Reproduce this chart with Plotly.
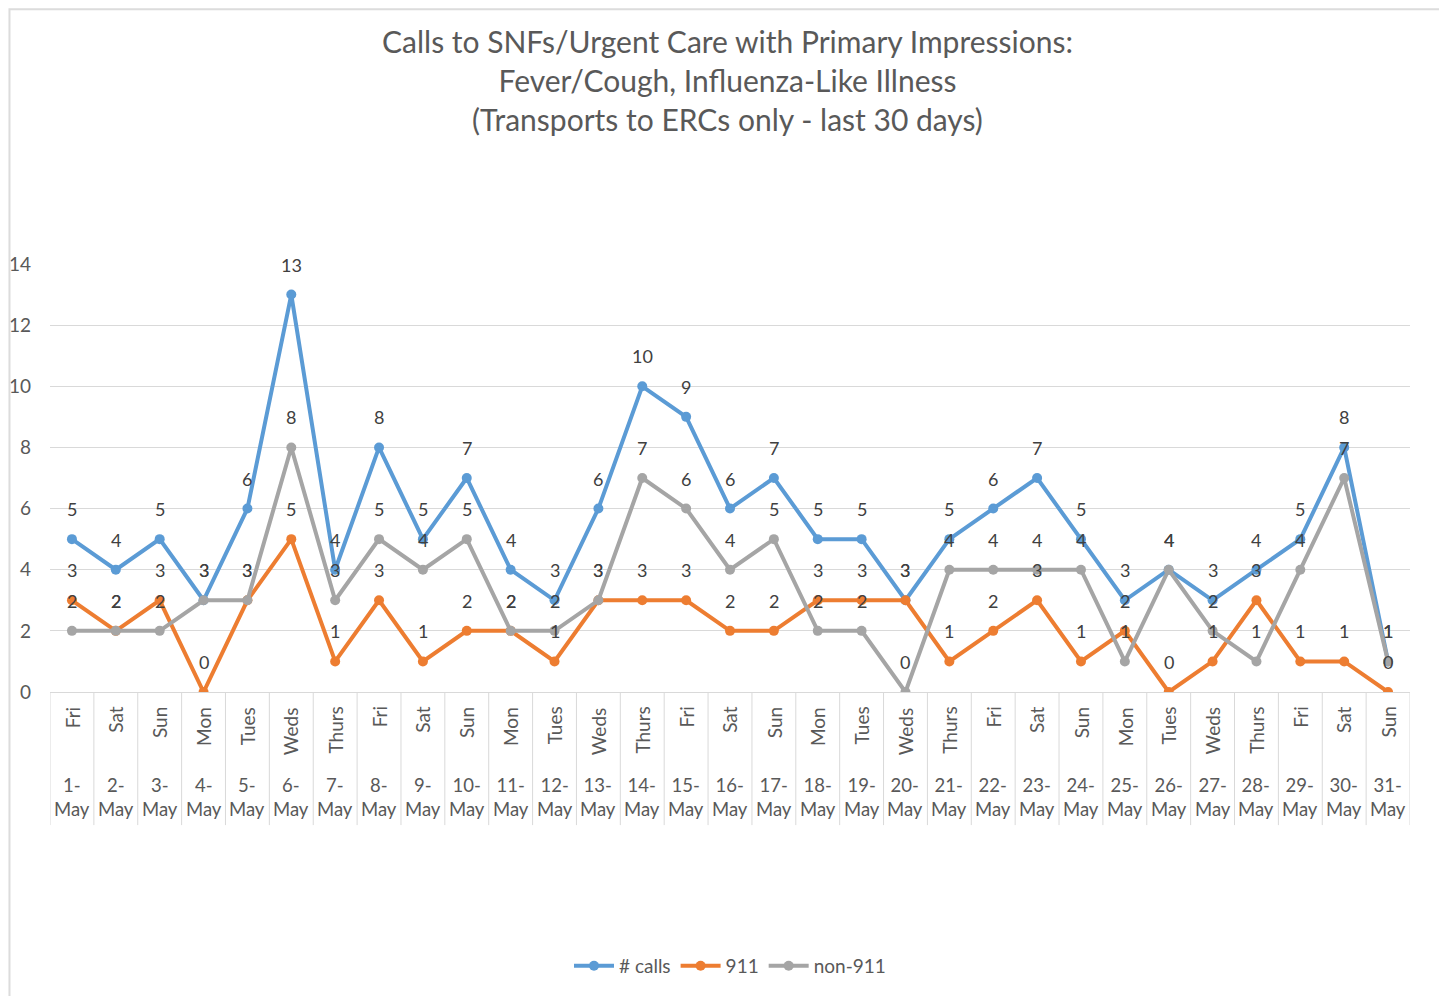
import plotly.graph_objects as go

days = ["Fri","Sat","Sun","Mon","Tues","Weds","Thurs","Fri","Sat","Sun","Mon","Tues","Weds","Thurs",
        "Fri","Sat","Sun","Mon","Tues","Weds","Thurs","Fri","Sat","Sun","Mon","Tues","Weds","Thurs",
        "Fri","Sat","Sun"]
dates = [f"{d}-May" for d in range(1, 32)]
calls = [5,4,5,3,6,13,4,8,5,7,4,3,6,10,9,6,7,5,5,3,5,6,7,5,3,4,3,4,5,8,1]
e911 = [3,2,3,0,3,5,1,3,1,2,2,1,3,3,3,2,2,3,3,3,1,2,3,1,2,0,1,3,1,1,0]
non911 = [2,2,2,3,3,8,3,5,4,5,2,2,3,7,6,4,5,2,2,0,4,4,4,4,1,4,2,1,4,7,1]

series = [("# calls", calls, "#5b9bd5"), ("911", e911, "#ed7d31"), ("non-911", non911, "#a5a5a5")]
FONT = "Lato"
TXT = "#595959"

idx = list(range(len(days)))
fig = go.Figure()
for name, vals, col in series:
    fig.add_trace(go.Scatter(
        x=idx, y=vals, name=name, mode="lines+markers",
        line=dict(color=col, width=4), marker=dict(color=col, size=10),
        hoverinfo="skip"))

annotations = []
for name, vals, col in series:
    for i, v in zip(idx, vals):
        annotations.append(dict(x=i, y=v, xref="x", yref="y", text=str(v), showarrow=False,
                                yshift=30, font=dict(family=FONT, size=18, color="#404040")))
for i, (dname, dt) in enumerate(zip(days, dates)):
    annotations.append(dict(x=i, y=-0.03, xref="x", yref="paper", text=dname, textangle=-90,
                            showarrow=False, xanchor="center", yanchor="top",
                            font=dict(family=FONT, size=19, color=TXT)))
    dd, mm = dt.split("-")
    annotations.append(dict(x=i, y=-0.188, xref="x", yref="paper", text=f"{dd}-<br>{mm}",
                            showarrow=False, xanchor="center", yanchor="top",
                            font=dict(family=FONT, size=18.5, color=TXT)))

shapes = [dict(type="line", xref="x", yref="paper", x0=i - 0.5, x1=i - 0.5, y0=0, y1=-0.311,
               line=dict(color="#d9d9d9", width=1)) for i in range(len(days) + 1)]
shapes.append(dict(type="rect", xref="paper", yref="paper", x0=-0.0298, x1=1.0246, y0=-0.75, y1=1.5955,
                   line=dict(color="#dcdcdc", width=2)))

fig.update_layout(
    width=1439, height=988,
    paper_bgcolor="white", plot_bgcolor="white",
    margin=dict(l=42, r=37, t=256, b=304, autoexpand=False),
    title=dict(text="Calls to SNFs/Urgent Care with Primary Impressions:<br>Fever/Cough, Influenza-Like Illness<br>(Transports to ERCs only - last 30 days)",
               x=0.5, xanchor="center", y=0.954, yanchor="top",
               font=dict(family=FONT, size=30, color=TXT)),
    xaxis=dict(range=[-0.5, 30.5], showticklabels=False, showgrid=False, zeroline=False,
               showline=True, linecolor="#d9d9d9", linewidth=1, ticks="", automargin=False),
    yaxis=dict(range=[0, 14], dtick=2, showgrid=True, gridcolor="#d9d9d9", zeroline=False,
               showline=False, tickfont=dict(family=FONT, size=19, color=TXT), ticklen=0,
               ticks="", ticklabelstandoff=18, automargin=False),
    showlegend=True,
    legend=dict(orientation="h", x=0.5, xanchor="center", y=-0.64, yanchor="middle",
                font=dict(family=FONT, size=19, color=TXT), itemwidth=40, tracegroupgap=0),
    annotations=annotations, shapes=shapes,
)
fig.write_html("out.html")
